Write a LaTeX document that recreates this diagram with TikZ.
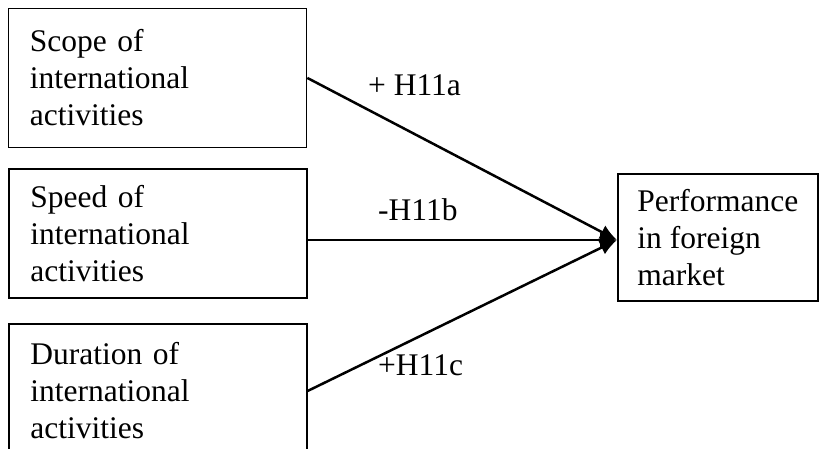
\documentclass[tikz,border=0pt]{standalone}
\usepackage{fontspec}
\setmainfont{Liberation Serif}
\usetikzlibrary{arrows.meta}
\begin{document}
\begin{tikzpicture}[x=1pt,y=-1pt,
  txt/.style={font=\fontsize{31.5}{37}\selectfont},
  lbox/.style={txt,draw,line width=1.8pt,anchor=north west,align=left,
    text width=255pt,inner xsep=21.5pt,inner ysep=0pt,minimum width=298pt},
  rbox/.style={txt,draw,line width=1.8pt,anchor=north west,align=left,
    inner xsep=0pt,inner ysep=0pt,minimum width=200pt},
  lab/.style={txt,anchor=base west,inner sep=0pt},
  conn/.style={line width=2.5pt,-{Latex[length=17pt,width=15pt]}}]
\useasboundingbox (0,0) rectangle (824,448);
\clip (0,0) rectangle (824,448);
\fill[white] (0,0) rectangle (824,448);
\node[lbox,minimum height=139pt] (s1) at (7.5,7.5) {Scope of\\international\\activities};
\node[lbox,minimum height=129pt] (s2) at (8,168) {Speed of\\international\\activities};
\node[lbox,minimum height=134pt] (s3) at (8,323) {Duration of\\international\\activities};
\node[rbox,minimum height=127pt] (perf) at (617,173) {Performance\\in foreign\\market};
\coordinate (tip) at (617,240);
\draw[conn] (s1.east) -- (tip);
\draw[conn] (s2.east |- tip) -- (tip);
\draw[conn] (s3.east) -- (tip);
\node[lab] (la) at (368,95) {+ H11a};
\node[lab] (lb) at (378,220) {-H11b};
\node[lab] (lc) at (378,375) {+H11c};
\end{tikzpicture}
\end{document}
